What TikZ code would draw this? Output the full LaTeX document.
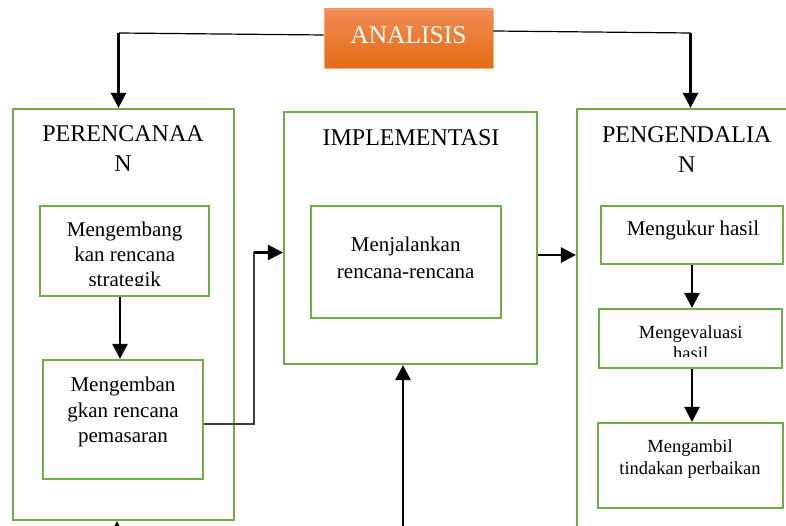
\documentclass[tikz,border=0pt]{standalone}
\usepackage{fontspec}
\setmainfont{Liberation Serif}
\usetikzlibrary{arrows.meta}

\definecolor{frameGreen}{RGB}{112,173,71}
\definecolor{orangeTop}{RGB}{241,140,84}
\definecolor{orangeMid}{RGB}{243,125,40}
\definecolor{orangeBot}{RGB}{228,108,20}
\definecolor{orangeEdge}{RGB}{246,170,125}
\definecolor{elbowGray}{RGB}{60,60,60}

% multi-line labels are placed by the baseline of their last line
\tikzset{
  box/.style={draw=frameGreen, line width=2.2pt, inner sep=0pt, fill=white},
  title/.style={anchor=base, align=center, font=\fontsize{24}{30}\selectfont},
  body/.style={anchor=base, align=center, font=\fontsize{21}{25}\selectfont},
  bodysmall/.style={anchor=base, align=center, font=\fontsize{18.5}{21.6}\selectfont},
  arr/.style={line width=2.6pt, -{Triangle[length=15pt,width=15pt]}},
  thinline/.style={line width=1.2pt},
}

\begin{document}
\begin{tikzpicture}[x=1pt,y=-1pt]
  \useasboundingbox (0,0) rectangle (786,526);
  \clip (0,0) rectangle (786,526);

  % analysis block on top
  \node[inner sep=0pt, minimum width=169pt, minimum height=59pt,
        top color=orangeTop, middle color=orangeMid, bottom color=orangeBot,
        draw=orangeEdge, line width=0.8pt] (ana) at (408.5,38.5) {};
  \node[anchor=base, text=white, font=\fontsize{25.5}{30}\selectfont] (anatxt) at (408.5,43.5) {ANALISIS};

  % three main stages
  \node[box, minimum width=221pt, minimum height=411pt] (per) at (123.5,314.5) {};
  \node[box, minimum width=253pt, minimum height=252pt] (impl) at (410.5,238) {};
  \node[box, minimum width=230pt, minimum height=440pt] (peng) at (692,329) {};

  \node[title] (pertxt) at (123,171.7) {PERENCANAA\\N};
  \node[title] (impltxt) at (411,145.7) {IMPLEMENTASI};
  \node[title] (pengtxt) at (686.7,172.3) {PENGENDALIA\\N};

  % planning steps
  \node[box, minimum width=169pt, minimum height=90pt] (s1) at (124.5,251) {};
  \node[box, minimum width=160pt, minimum height=119pt] (s2) at (123,419.5) {};
  \begin{scope}
    \clip (40,200) rectangle (209,285.5);
    \node[body] (s1txt) at (124.7,286.7) {Mengembang\\kan rencana\\strategik};
  \end{scope}
  \node[body, font=\fontsize{21}{25.5}\selectfont] (s2txt) at (123,442.7) {Mengemban\\gkan rencana\\pemasaran};

  % implementation step
  \node[box, minimum width=190pt, minimum height=112pt] (i1) at (406,262) {};
  \node[body, font=\fontsize{21}{26.6}\selectfont] (i1txt) at (405.7,278.3) {Menjalankan\\rencana-rencana};

  % control steps
  \node[box, minimum width=182pt, minimum height=58pt] (p1) at (692,235) {};
  \node[box, minimum width=183pt, minimum height=59pt] (p2) at (690.5,338.5) {};
  \node[box, minimum width=185pt, minimum height=85pt] (p3) at (690.5,465.5) {};
  \node[body] (p1txt) at (693,236) {Mengukur hasil};
  \begin{scope}
    \clip (600,310) rectangle (781,356.5);
    \node[bodysmall] (p2txt) at (690.7,359.9) {Mengevaluasi\\hasil};
  \end{scope}
  \node[bodysmall] (p3txt) at (690,474) {Mengambil\\tindakan perbaikan};

  % connectors from the analysis block
  \coordinate (lt) at (118.5,33);
  \coordinate (rt) at (690.5,33);
  \draw[thinline] ([yshift=3.5pt]ana.west) -- (lt);
  \draw[arr] (lt) -- (lt |- per.north);
  \draw[thinline] ([yshift=7.5pt]ana.east) -- (rt);
  \draw[arr] (rt) -- (rt |- peng.north);

  % flow inside planning
  \draw[arr] ([xshift=-4.5pt]s1.south) -- ([xshift=-4.5pt]s1.south |- s2.north);

  % planning to implementation
  \coordinate (e1) at (254,424);
  \coordinate (e2) at (254,252.5);
  \draw[thinline, draw=elbowGray] (s2.east |- e1) -- (e1) -- (e2);
  \draw[arr] (e2) -- (e2 -| impl.west);

  % implementation to control
  \draw[arr] ([yshift=-17pt]impl.east) -- ([yshift=-17pt]impl.east -| peng.west);

  % flow inside control
  \draw[arr] (p1.south) -- (p1.south |- p2.north);
  \draw[arr] ([xshift=1.5pt]p2.south) -- ([xshift=1.5pt]p2.south |- p3.north);

  % feedback arrows entering from below
  \coordinate (ib) at (403,540);
  \draw[arr] (ib) -- (ib |- impl.south);
  \coordinate (pb) at (117,545);
  \draw[arr] (pb) -- (pb |- per.south);
\end{tikzpicture}
\end{document}
